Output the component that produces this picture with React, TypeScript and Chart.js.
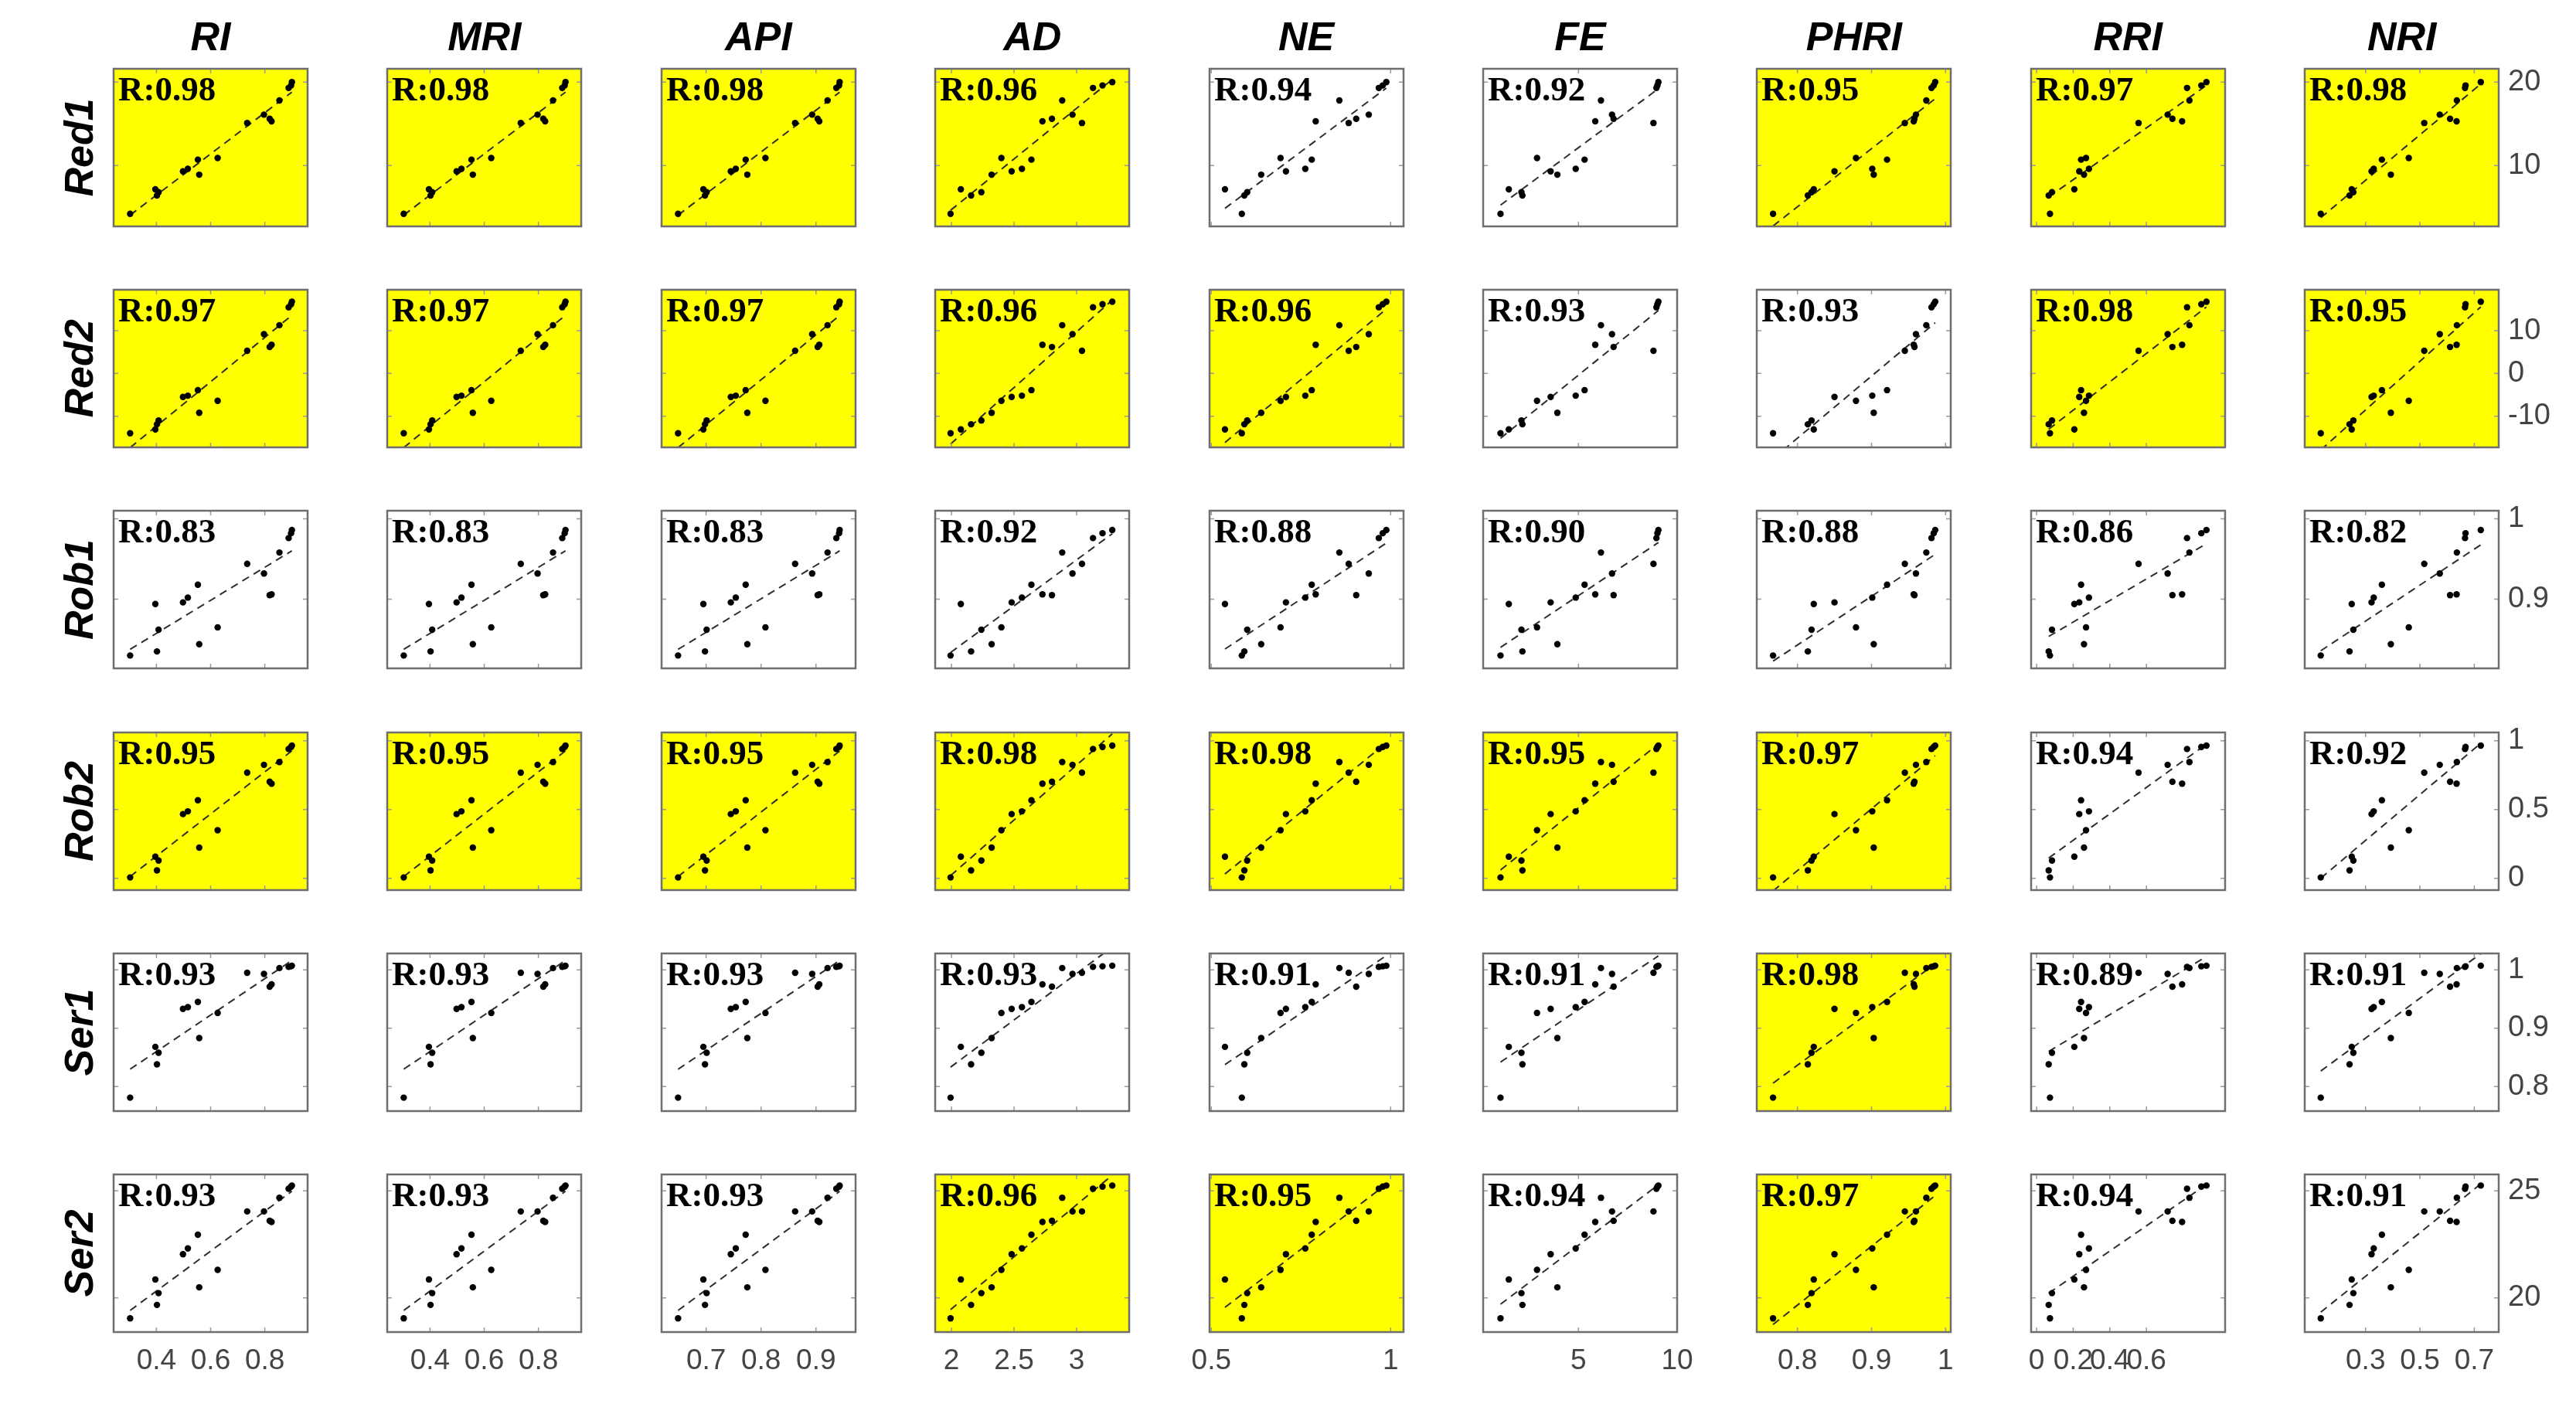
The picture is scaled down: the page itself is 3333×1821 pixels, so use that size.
import React, { useEffect, useRef } from 'react';
import { Chart, registerables } from 'chart.js';
Chart.register(...registerables);

// ---------- data ----------
const columns = ['RI', 'MRI', 'API', 'AD', 'NE', 'FE', 'PHRI', 'RRI', 'NRI'];
const rows = ['Red1', 'Red2', 'Rob1', 'Rob2', 'Ser1', 'Ser2'];

// index values (x) per sample
const RI = [0.303, 0.396, 0.402, 0.408, 0.498, 0.516, 0.553, 0.558, 0.626, 0.735, 0.797, 0.818, 0.825, 0.854, 0.888, 0.897, 0.900];
const MRI = [0.303, 0.396, 0.402, 0.408, 0.498, 0.516, 0.553, 0.558, 0.626, 0.735, 0.797, 0.818, 0.825, 0.854, 0.888, 0.897, 0.900];
const API = [0.649, 0.695, 0.698, 0.701, 0.745, 0.754, 0.772, 0.775, 0.808, 0.862, 0.893, 0.903, 0.906, 0.921, 0.937, 0.942, 0.943];
const AD = [1.993, 2.075, 2.157, 2.239, 2.481, 2.563, 2.639, 2.321, 2.399, 3.043, 2.967, 2.803, 2.727, 2.885, 3.131, 3.207, 3.285];
const NE = [0.585, 0.538, 0.592, 0.600, 0.708, 0.762, 0.780, 0.639, 0.693, 0.883, 0.939, 0.904, 0.791, 0.857, 0.967, 0.978, 0.988];
const FE = [1.05, 1.47, 2.16, 2.11, 3.59, 4.86, 5.31, 3.93, 2.90, 8.80, 6.70, 6.78, 5.85, 6.14, 8.95, 9.00, 9.05];
const PHRI = [0.767, 0.822, 0.814, 0.819, 0.850, 0.901, 0.921, 0.903, 0.879, 0.945, 0.960, 0.958, 0.957, 0.974, 0.981, 0.984, 0.986];
const RRI = [0.073, 0.206, 0.066, 0.084, 0.233, 0.286, 0.243, 0.259, 0.270, 0.557, 0.716, 0.742, 0.795, 0.835, 0.822, 0.900, 0.928];
const NRI = [0.135, 0.249, 0.241, 0.255, 0.322, 0.330, 0.360, 0.393, 0.459, 0.516, 0.573, 0.611, 0.635, 0.636, 0.666, 0.668, 0.724];

// metric values (y) per sample
const Red1 = [4.2, 7.15, 6.4, 6.8, 9.3, 9.6, 10.7, 8.9, 10.9, 15.1, 16.1, 15.6, 15.3, 17.8, 19.3, 19.6, 20.0];
const Red2 = [-14.0, -13.1, -11.9, -11.0, -5.5, -5.2, -3.9, -9.2, -6.4, 5.3, 9.2, 6.2, 6.7, 11.3, 15.5, 16.2, 16.8];
const Rob1 = [0.830, 0.894, 0.835, 0.862, 0.896, 0.902, 0.918, 0.844, 0.865, 0.944, 0.932, 0.905, 0.906, 0.958, 0.976, 0.982, 0.986];
const Rob2 = [0.007, 0.158, 0.058, 0.130, 0.467, 0.487, 0.568, 0.224, 0.350, 0.768, 0.825, 0.702, 0.688, 0.845, 0.940, 0.955, 0.965];
const Ser1 = [0.781, 0.868, 0.838, 0.858, 0.933, 0.936, 0.945, 0.883, 0.926, 0.995, 0.993, 0.971, 0.975, 1.003, 1.005, 1.006, 1.007];
const Ser2 = [19.04, 20.86, 19.67, 20.22, 22.04, 22.31, 22.95, 20.49, 21.31, 24.04, 24.04, 23.60, 23.55, 24.68, 25.10, 25.20, 25.25];

// correlation labels per row (columns in order)
const rRed1 = ['0.98', '0.98', '0.98', '0.96', '0.94', '0.92', '0.95', '0.97', '0.98'];
const rRed2 = ['0.97', '0.97', '0.97', '0.96', '0.96', '0.93', '0.93', '0.98', '0.95'];
const rRob1 = ['0.83', '0.83', '0.83', '0.92', '0.88', '0.90', '0.88', '0.86', '0.82'];
const rRob2 = ['0.95', '0.95', '0.95', '0.98', '0.98', '0.95', '0.97', '0.94', '0.92'];
const rSer1 = ['0.93', '0.93', '0.93', '0.93', '0.91', '0.91', '0.98', '0.89', '0.91'];
const rSer2 = ['0.93', '0.93', '0.93', '0.96', '0.95', '0.94', '0.97', '0.94', '0.91'];

// highlighted (yellow) panels per row
const hlRed1 = [1, 1, 1, 1, 0, 0, 1, 1, 1];
const hlRed2 = [1, 1, 1, 1, 1, 0, 0, 1, 1];
const hlRob1 = [0, 0, 0, 0, 0, 0, 0, 0, 0];
const hlRob2 = [1, 1, 1, 1, 1, 1, 1, 0, 0];
const hlSer1 = [0, 0, 0, 0, 0, 0, 1, 0, 0];
const hlSer2 = [0, 0, 0, 1, 1, 0, 1, 0, 0];

// axis ticks and limits
const xTicksRI = [0.4, 0.6, 0.8];
const xTicksMRI = [0.4, 0.6, 0.8];
const xTicksAPI = [0.7, 0.8, 0.9];
const xTicksAD = [2, 2.5, 3];
const xTicksNE = [0.5, 1];
const xTicksFE = [5, 10];
const xTicksPHRI = [0.8, 0.9, 1];
const xTicksRRI = [0, 0.2, 0.4, 0.6];
const xTicksNRI = [0.3, 0.5, 0.7];
const xLimRI = [0.242, 0.958];
const xLimMRI = [0.242, 0.958];
const xLimAPI = [0.619, 0.972];
const xLimAD = [1.87, 3.42];
const xLimNE = [0.495, 1.036];
const xLimFE = [0.17, 10];
const xLimPHRI = [0.745, 1.007];
const xLimRRI = [-0.03, 1.03];
const xLimNRI = [0.076, 0.79];

const yTicksRed1 = [10, 20];
const yTicksRed2 = [-10, 0, 10];
const yTicksRob1 = [0.9, 1];
const yTicksRob2 = [0, 0.5, 1];
const yTicksSer1 = [0.8, 0.9, 1];
const yTicksSer2 = [20, 25];
const yLimRed1 = [2.7, 21.6];
const yLimRed2 = [-17.3, 19.6];
const yLimRob1 = [0.814, 1.01];
const yLimRob2 = [-0.085, 1.06];
const yLimSer1 = [0.758, 1.028];
const yLimSer2 = [18.4, 25.77];

const xData = [RI, MRI, API, AD, NE, FE, PHRI, RRI, NRI];
const xTicks = [xTicksRI, xTicksMRI, xTicksAPI, xTicksAD, xTicksNE, xTicksFE, xTicksPHRI, xTicksRRI, xTicksNRI];
const xLims = [xLimRI, xLimMRI, xLimAPI, xLimAD, xLimNE, xLimFE, xLimPHRI, xLimRRI, xLimNRI];
const yData = [Red1, Red2, Rob1, Rob2, Ser1, Ser2];
const yTicks = [yTicksRed1, yTicksRed2, yTicksRob1, yTicksRob2, yTicksSer1, yTicksSer2];
const yLims = [yLimRed1, yLimRed2, yLimRob1, yLimRob2, yLimSer1, yLimSer2];
const rLabels = [rRed1, rRed2, rRob1, rRob2, rSer1, rSer2];
const highlights = [hlRed1, hlRed2, hlRob1, hlRob2, hlSer1, hlSer2];

// ---------- layout ----------
const W = 3333;
const H = 1821;
const PANEL_W = 251;
const PANEL_H = 204;
const COL_X0 = 147;
const COL_STEP = 354.4;
const ROW_Y0 = 89;
const ROW_STEP = 286.2;
const RIGHT_AXIS = 80;
const BOTTOM_AXIS = 72;
const SANS = '"Liberation Sans", Arial, sans-serif';
const SERIF = '"Liberation Serif", "Times New Roman", serif';

function fitLine(xs: number[], ys: number[]) {
  const n = xs.length;
  let sx = 0, sy = 0, sxx = 0, sxy = 0;
  for (let i = 0; i < n; i++) {
    sx += xs[i]; sy += ys[i]; sxx += xs[i] * xs[i]; sxy += xs[i] * ys[i];
  }
  const b = (n * sxy - sx * sy) / (n * sxx - sx * sx);
  const a = (sy - b * sx) / n;
  const x0 = Math.min(...xs);
  const x1 = Math.max(...xs);
  return [{ x: x0, y: a + b * x0 }, { x: x1, y: a + b * x1 }];
}

function Panel({ r, c }: { r: number; c: number }) {
  const ref = useRef<HTMLCanvasElement | null>(null);
  const lastCol = c === columns.length - 1;
  const lastRow = r === rows.length - 1;
  const padL = 30;
  const padT = 30;
  const padR = lastCol ? 10 : 30;
  const padB = lastRow ? 10 : 30;
  const yW = lastCol ? RIGHT_AXIS : 0;
  const xH = lastRow ? BOTTOM_AXIS : 0;
  const cw = padL + PANEL_W + yW + padR;
  const ch = padT + PANEL_H + xH + padB;
  const left = Math.round(COL_X0 + c * COL_STEP) - padL;
  const top = Math.round(ROW_Y0 + r * ROW_STEP) - padT;

  useEffect(() => {
    const canvas = ref.current;
    if (!canvas) return;
    const xs = xData[c];
    const ys = yData[r];
    const pts = xs.map((x, i) => ({ x, y: ys[i] }));
    const line = fitLine(xs, ys);
    const hl = highlights[r][c] === 1;
    const label = 'R:' + rLabels[r][c];

    const deco = {
      id: 'panelDeco',
      beforeDatasetsDraw(chart: any) {
        const { ctx, chartArea: a } = chart;
        ctx.save();
        ctx.fillStyle = hl ? '#ffff00' : '#ffffff';
        ctx.fillRect(a.left, a.top, a.right - a.left, a.bottom - a.top);
        ctx.restore();
      },
      afterDatasetsDraw(chart: any) {
        const { ctx, chartArea: a, scales } = chart;
        ctx.save();
        // inner tick marks
        ctx.strokeStyle = '#9a9a9a';
        ctx.lineWidth = 1.5;
        const tl = 6;
        ctx.beginPath();
        xTicks[c].forEach((v) => {
          const px = scales.x.getPixelForValue(v);
          if (px <= a.left + 1 || px >= a.right - 1) return;
          ctx.moveTo(px, a.bottom); ctx.lineTo(px, a.bottom - tl);
          ctx.moveTo(px, a.top); ctx.lineTo(px, a.top + tl);
        });
        yTicks[r].forEach((v) => {
          const py = scales.y.getPixelForValue(v);
          if (py <= a.top + 1 || py >= a.bottom - 1) return;
          ctx.moveTo(a.left, py); ctx.lineTo(a.left + tl, py);
          ctx.moveTo(a.right, py); ctx.lineTo(a.right - tl, py);
        });
        ctx.stroke();
        // frame
        ctx.strokeStyle = '#6e6e6e';
        ctx.lineWidth = 2.5;
        ctx.strokeRect(a.left, a.top, a.right - a.left, a.bottom - a.top);
        // R label
        ctx.fillStyle = '#000';
        ctx.font = 'bold 45px ' + SERIF;
        ctx.textAlign = 'left';
        ctx.textBaseline = 'alphabetic';
        ctx.fillText(label, a.left + 6, a.top + 41);
        ctx.restore();
      },
    };

    const chart = new Chart(canvas, {
      type: 'scatter',
      data: {
        datasets: [
          {
            data: pts,
            pointRadius: 4.2,
            pointBackgroundColor: '#000',
            pointBorderWidth: 0,
            showLine: false,
          },
          {
            data: line,
            showLine: true,
            borderColor: '#2e2e2e',
            borderWidth: 2,
            borderDash: [10, 7],
            pointRadius: 0,
            fill: false,
          },
        ],
      },
      options: {
        animation: false,
        responsive: false,
        devicePixelRatio: 1,
        events: [],
        layout: { padding: { left: padL, top: padT, right: padR, bottom: padB } },
        plugins: { legend: { display: false }, tooltip: { enabled: false }, title: { display: false } },
        scales: {
          x: {
            type: 'linear',
            position: 'bottom',
            min: xLims[c][0],
            max: xLims[c][1],
            grid: { display: false, drawTicks: false },
            border: { display: false },
            ticks: {
              display: lastRow,
              color: '#444',
              font: { family: SANS, size: 37 },
              padding: 16,
              maxRotation: 0,
              autoSkip: false,
              callback: (v: any) => String(v),
            },
            afterBuildTicks: (s: any) => {
              s.ticks = xTicks[c].map((v) => ({ value: v }));
            },
            afterFit: (s: any) => {
              s.height = xH;
              s.paddingLeft = 0;
              s.paddingRight = 0;
            },
          },
          y: {
            type: 'linear',
            position: 'right',
            min: yLims[r][0],
            max: yLims[r][1],
            grid: { display: false, drawTicks: false },
            border: { display: false },
            ticks: {
              display: lastCol,
              color: '#444',
              font: { family: SANS, size: 38 },
              padding: 12,
              autoSkip: false,
              callback: (v: any) => String(v),
            },
            afterBuildTicks: (s: any) => {
              s.ticks = yTicks[r].map((v) => ({ value: v }));
            },
            afterFit: (s: any) => {
              s.width = yW;
              s.paddingTop = 0;
              s.paddingBottom = 0;
            },
          },
        },
      },
      plugins: [deco],
    });
    return () => chart.destroy();
  }, [r, c]);

  return (
    <canvas
      ref={ref}
      width={cw}
      height={ch}
      style={{ position: 'absolute', left, top, width: cw, height: ch }}
    />
  );
}

export default function App() {
  const titleStyle: React.CSSProperties = {
    position: 'absolute',
    fontFamily: SANS,
    fontWeight: 'bold',
    fontStyle: 'italic',
    fontSize: 52,
    lineHeight: '52px',
    color: '#000',
    whiteSpace: 'nowrap',
    textAlign: 'center',
    width: 300,
  };
  return (
    <div style={{ position: 'absolute', left: 0, top: 0, width: W, height: H, overflow: 'hidden', background: '#fff' }}>
      {columns.map((name, c) => (
        <div
          key={'t' + name}
          style={{ ...titleStyle, left: COL_X0 + c * COL_STEP + PANEL_W / 2 - 150, top: 21 }}
        >
          {name}
        </div>
      ))}
      {rows.map((name, r) => (
        <div
          key={'r' + name}
          style={{
            ...titleStyle,
            left: 102 - 150,
            top: ROW_Y0 + r * ROW_STEP + PANEL_H / 2 - 26,
            transform: 'rotate(-90deg)',
          }}
        >
          {name}
        </div>
      ))}
      {rows.map((_, r) =>
        columns.map((__, c) => <Panel key={r + '-' + c} r={r} c={c} />)
      )}
    </div>
  );
}
